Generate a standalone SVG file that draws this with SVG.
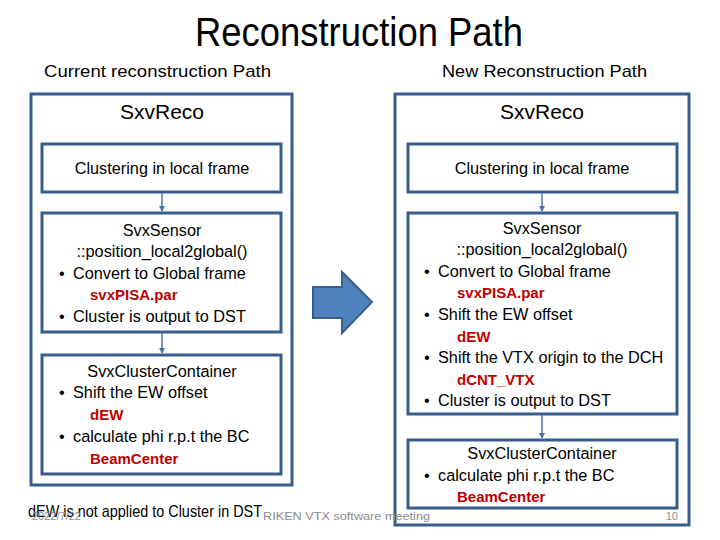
<svg xmlns="http://www.w3.org/2000/svg" width="720" height="540" viewBox="0 0 720 540">
<defs>
<style>
.box{fill:#fff;stroke:#385D8A;stroke-width:3}
.conn{stroke:#4A74A8;stroke-width:1.5;fill:none}
text{font-family:"Liberation Sans",Arial,sans-serif;fill:#000}
.t{font-size:16.3px}
.c{text-anchor:middle}
.red{fill:#C00000;font-weight:bold;font-size:15px}
.gray{fill:#8C8C8C;font-size:11px}
</style>
<marker id="ah" markerWidth="6" markerHeight="6" refX="5" refY="3" orient="auto" markerUnits="userSpaceOnUse">
<path d="M0,0 L6,3 L0,6 z" fill="#4A74A8"/>
</marker>
</defs>
<rect width="720" height="540" fill="#fff"/>
<text x="359" y="46" class="c" font-size="40" textLength="328" lengthAdjust="spacingAndGlyphs">Reconstruction Path</text>
<text x="44" y="77" font-size="17" textLength="227" lengthAdjust="spacingAndGlyphs">Current reconstruction Path</text>
<text x="442" y="77" font-size="17" textLength="205" lengthAdjust="spacingAndGlyphs">New Reconstruction Path</text>

<g id="left-outer">
<rect class="box" x="31" y="94" width="261" height="391"/>
<text x="162" y="119" class="c" font-size="21">SxvReco</text>
</g>
<g id="left-cluster">
<rect class="box" x="42" y="144" width="239" height="48"/>
<text x="162" y="174" class="c t">Clustering in local frame</text>
</g>
<g id="left-sensor">
<rect class="box" x="42" y="213" width="239" height="119"/>
<text x="162" y="236" class="c t">SvxSensor</text>
<text x="162" y="257" class="c t">::position_local2global()</text>
<text x="59" y="279" class="t">•</text><text x="73" y="279" class="t">Convert to Global frame</text>
<text x="90" y="300" class="red">svxPISA.par</text>
<text x="59" y="322" class="t">•</text><text x="73" y="322" class="t">Cluster is output to DST</text>
</g>
<g id="left-container">
<rect class="box" x="42" y="355" width="239" height="119"/>
<text x="162" y="377" class="c t">SvxClusterContainer</text>
<text x="59" y="398" class="t">•</text><text x="73" y="398" class="t">Shift the EW offset</text>
<text x="90" y="420" class="red">dEW</text>
<text x="59" y="442" class="t">•</text><text x="73" y="442" class="t">calculate phi r.p.t the BC</text>
<text x="90" y="464" class="red">BeamCenter</text>
</g>

<g id="big-arrow">
<path d="M313,287 L342,287 L342,272 L372,302 L342,333 L342,318 L313,318 Z" fill="#4F81BD" stroke="#385D8A" stroke-width="2"/>
</g>

<g id="right-outer">
<rect class="box" x="395" y="94" width="294" height="431"/>
<text x="542" y="119" class="c" font-size="21">SxvReco</text>
</g>
<g id="right-cluster">
<rect class="box" x="408" y="144" width="269" height="48"/>
<text x="542" y="174" class="c t">Clustering in local frame</text>
</g>
<g id="right-sensor">
<rect class="box" x="408" y="213" width="269" height="201"/>
<text x="542" y="234" class="c t">SvxSensor</text>
<text x="542" y="255" class="c t">::position_local2global()</text>
<text x="424" y="277" class="t">•</text><text x="438" y="277" class="t">Convert to Global frame</text>
<text x="457" y="298" class="red">svxPISA.par</text>
<text x="424" y="320" class="t">•</text><text x="438" y="320" class="t">Shift the EW offset</text>
<text x="457" y="342" class="red">dEW</text>
<text x="424" y="363" class="t">•</text><text x="438" y="363" class="t">Shift the VTX origin to the DCH</text>
<text x="457" y="385" class="red">dCNT_VTX</text>
<text x="424" y="406" class="t">•</text><text x="438" y="406" class="t">Cluster is output to DST</text>
</g>
<g id="right-container">
<rect class="box" x="408" y="440" width="269" height="68"/>
<text x="542" y="459" class="c t">SvxClusterContainer</text>
<text x="424" y="481" class="t">•</text><text x="438" y="481" class="t">calculate phi r.p.t the BC</text>
<text x="457" y="502" class="red">BeamCenter</text>
</g>

<g id="connectors">
<line class="conn" x1="162" y1="193" x2="162" y2="211" marker-end="url(#ah)"/>
<line class="conn" x1="162" y1="333" x2="162" y2="353" marker-end="url(#ah)"/>
<line class="conn" x1="542" y1="193" x2="542" y2="211" marker-end="url(#ah)"/>
<line class="conn" x1="542" y1="415" x2="542" y2="438" marker-end="url(#ah)"/>
</g>

<text x="28" y="517" font-size="16.5" textLength="234" lengthAdjust="spacingAndGlyphs">dEW is not applied to Cluster in DST</text>
<text x="32" y="520" class="gray">2022/7/22</text>
<text x="263" y="520" class="gray" textLength="167" lengthAdjust="spacingAndGlyphs">RIKEN VTX software meeting</text>
<text x="678" y="520" class="gray" text-anchor="end">10</text>
</svg>
